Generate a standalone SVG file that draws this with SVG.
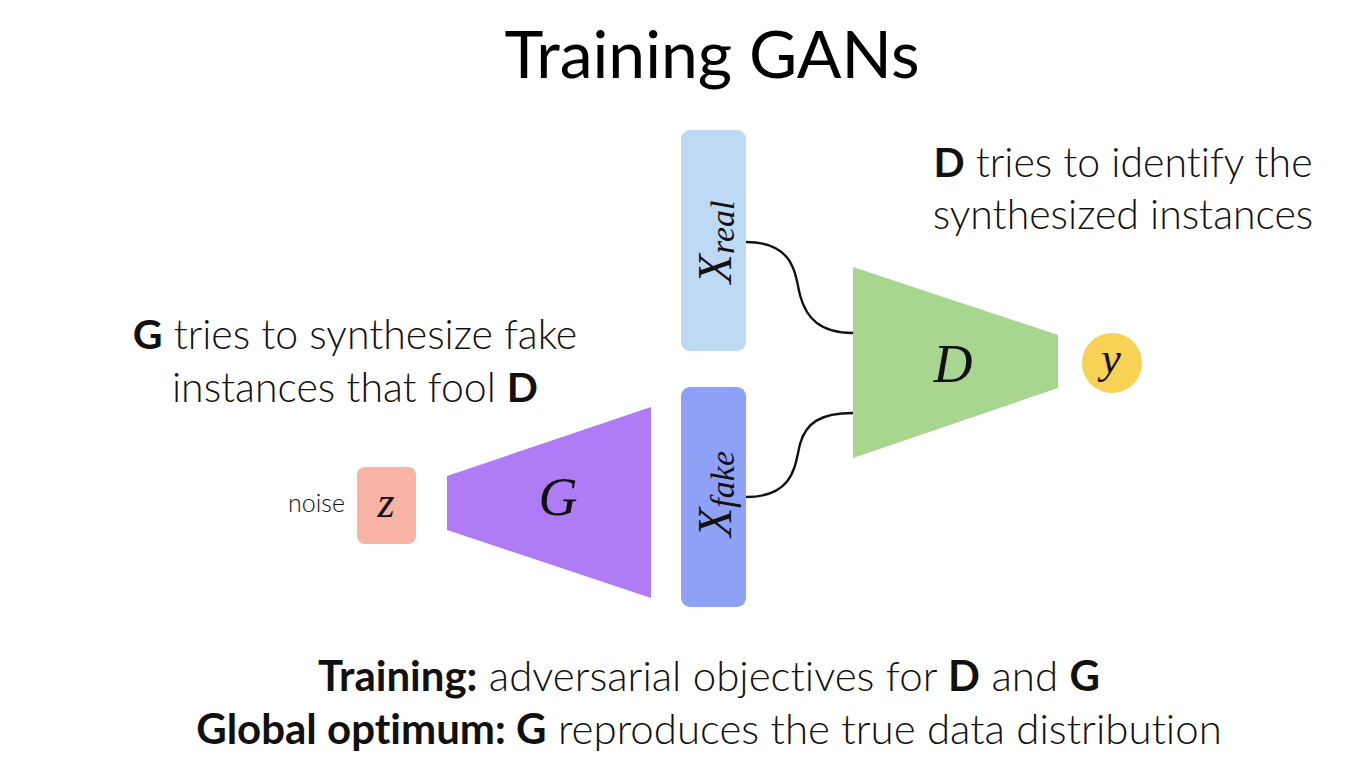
<svg xmlns="http://www.w3.org/2000/svg" width="1364" height="774" viewBox="0 0 1364 774">
<style>
.t{font-family:Lato,"Open Sans","DejaVu Sans",sans-serif;font-weight:300;fill:#111;font-variant-ligatures:none}
.ti{font-weight:400;fill:#000}
.b{font-weight:700}
.m{font-family:"Liberation Serif","DejaVu Serif",serif;font-style:italic;fill:#111}
.w{fill:none;stroke:#111;stroke-width:2.4}
</style>
<rect width="1364" height="774" fill="#fff"/>
<text class="t ti" x="712" y="78" font-size="66" text-anchor="middle">Training GANs</text>
<g id="label-d" class="t" font-size="41" text-anchor="middle">
<text x="1123" y="177"><tspan class="b">D</tspan> tries to identify the</text>
<text x="1123" y="229">synthesized instances</text>
</g>
<g id="label-g" class="t" font-size="41" text-anchor="middle">
<text x="355" y="349"><tspan class="b">G</tspan> tries to synthesize fake</text>
<text x="355" y="402">instances that fool <tspan class="b">D</tspan></text>
</g>
<g id="connectors">
<path class="w" d="M746,242 C795,242 795,275 800,295 C806,318 820,333 853,333"/>
<path class="w" d="M746,497 C795,497 795,464 800,444 C806,423 820,413 853,413"/>
</g>
<g id="node-xreal">
<rect x="681" y="130" width="65" height="221" rx="9" fill="#bdd9f4"/>
<text class="m" font-size="48" transform="translate(731,242) rotate(-90)" text-anchor="middle">X<tspan font-size="34" dy="3">real</tspan></text>
</g>
<g id="node-xfake">
<rect x="681" y="387" width="65" height="220" rx="9" fill="#8fa0f7"/>
<text class="m" font-size="48" transform="translate(731,494) rotate(-90)" text-anchor="middle">X<tspan font-size="34" dy="3">fake</tspan></text>
</g>
<g id="node-d">
<polygon points="853,267 1058,335 1058,388 853,458" fill="#a8d590"/>
<text class="m" x="953" y="382" font-size="54" text-anchor="middle">D</text>
</g>
<g id="node-y">
<circle cx="1112" cy="363" r="30" fill="#f8d254"/>
<text class="m" x="1111" y="373" font-size="44" text-anchor="middle">y</text>
</g>
<g id="node-g">
<polygon points="447,476 651,407 651,598 447,530" fill="#b07cf6"/>
<text class="m" x="558" y="515" font-size="54" text-anchor="middle">G</text>
</g>
<g id="node-z">
<rect x="357" y="467" width="59" height="77" rx="8" fill="#f8b3a5"/>
<text class="m" x="386" y="517" font-size="44" text-anchor="middle">z</text>
<text class="t" x="345" y="512" font-size="25" text-anchor="end" fill="#333">noise</text>
</g>
<g id="bottom" class="t" font-size="42" text-anchor="middle">
<text x="709" y="691"><tspan class="b">Training:</tspan> adversarial objectives for <tspan class="b">D</tspan> and <tspan class="b">G</tspan></text>
<text x="709" y="744"><tspan class="b">Global optimum: G</tspan> reproduces the true data distribution</text>
</g>
</svg>
